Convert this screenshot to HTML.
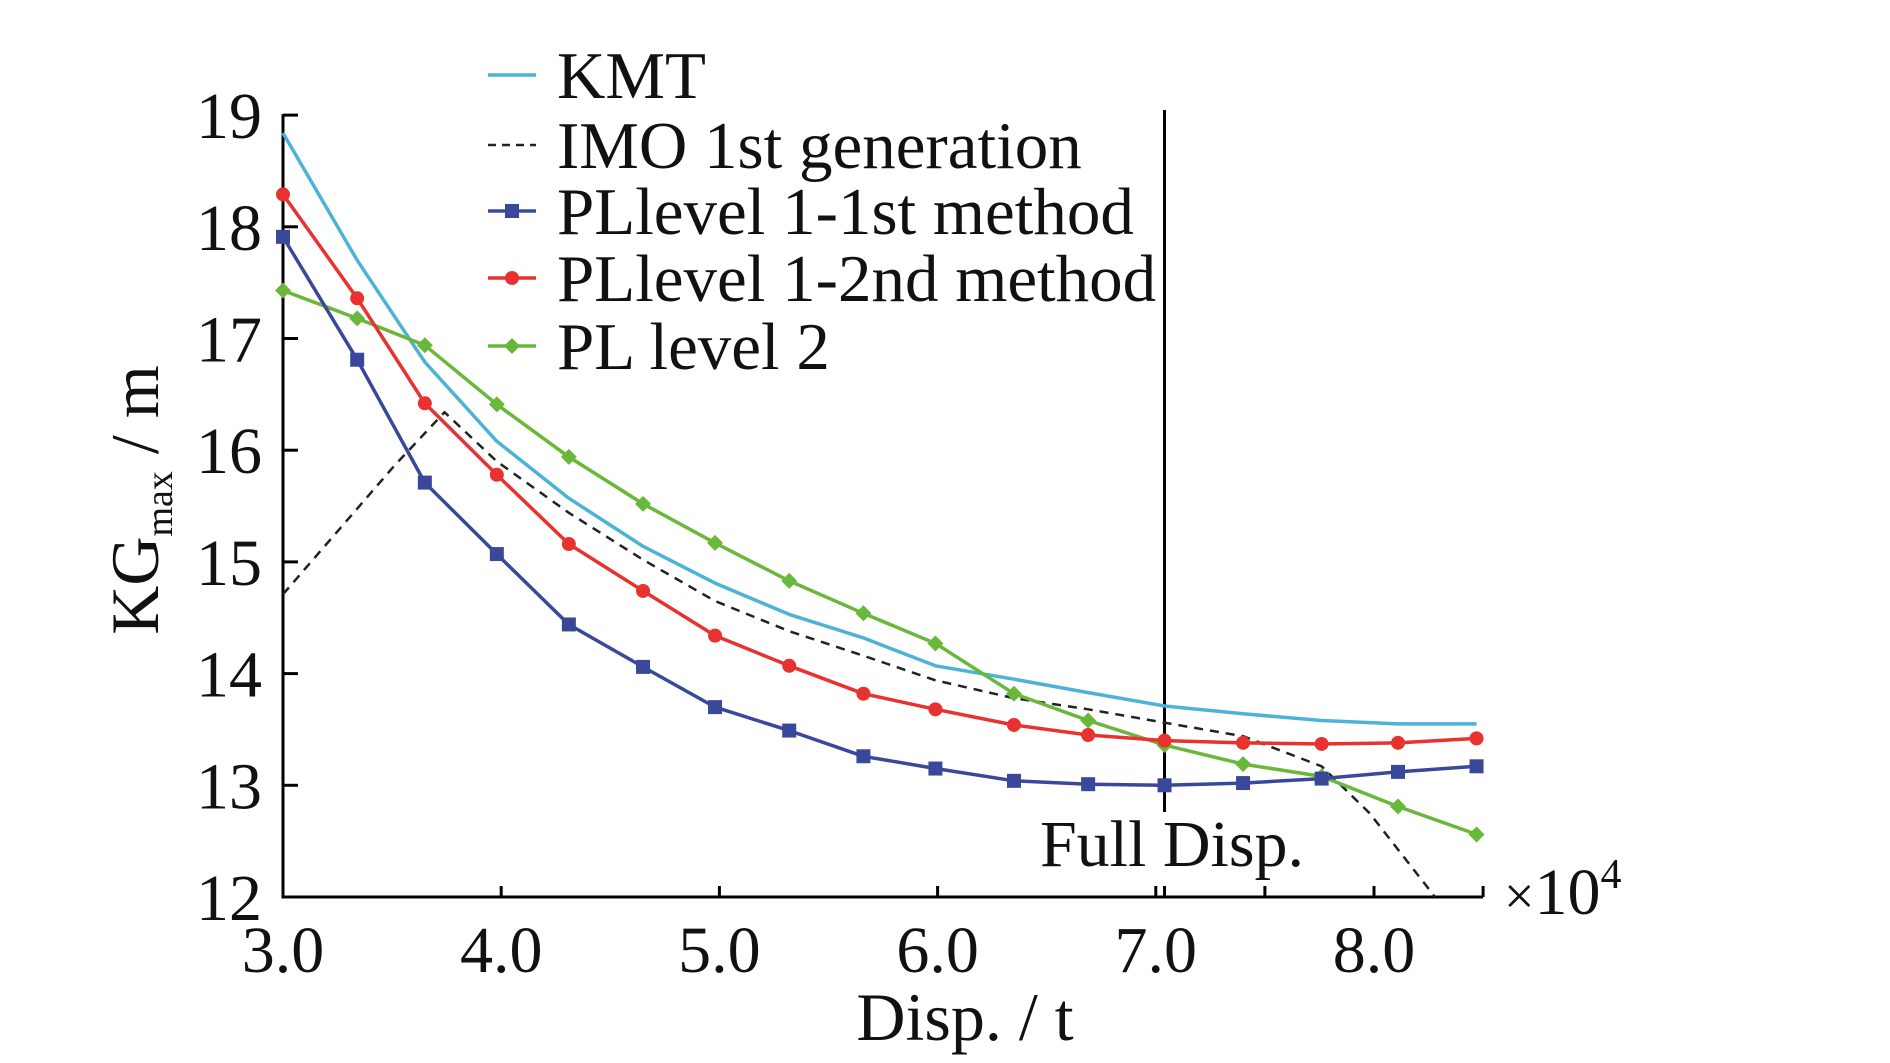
<!DOCTYPE html>
<html><head><meta charset="utf-8"><style>
html,body{margin:0;padding:0;background:#fff;}
svg{display:block;font-family:"Liberation Serif",serif;}
</style></head><body>
<svg id="chart" width="1890" height="1063" viewBox="0 0 1890 1063">
<g id="axes"></g>
<g id="series"></g>
<g id="legend"></g>
</svg>
<script>
const xTicks = [3.0, 4.0, 5.0, 6.0, 7.0, 8.0];
const xTickLabels = ["3.0","4.0","5.0","6.0","7.0","8.0"];
const xMinorTicks = [7.5, 8.5];
const yTicks = [12,13,14,15,16,17,18,19];
const ptX = [3.00,3.34,3.65,3.98,4.31,4.65,4.98,5.32,5.66,5.99,6.35,6.69,7.04,7.40,7.76,8.11,8.47];
const level1First = [17.91,16.81,15.71,15.07,14.44,14.06,13.70,13.49,13.26,13.15,13.04,13.01,13.00,13.02,13.06,13.12,13.17];
const level1Second = [18.29,17.36,16.42,15.78,15.16,14.74,14.34,14.07,13.82,13.68,13.54,13.45,13.40,13.38,13.37,13.38,13.42];
const level2 = [17.43,17.18,16.94,16.41,15.94,15.52,15.17,14.83,14.54,14.27,13.82,13.58,13.36,13.19,13.08,12.81,12.56];
const kmt = [18.84,17.70,16.79,16.08,15.57,15.14,14.81,14.53,14.32,14.07,13.95,13.83,13.71,13.64,13.58,13.55,13.55];
const imoX = [3.00,3.51,3.74,3.98,4.31,4.65,4.98,5.32,5.66,5.99,6.35,6.69,7.04,7.40,7.76,7.98,8.28];
const imo = [14.71,15.86,16.34,15.90,15.44,15.02,14.65,14.38,14.16,13.94,13.78,13.68,13.56,13.44,13.17,12.75,12.00];
const fullDisp = 7.04;

const NS="http://www.w3.org/2000/svg";
const X0=283, XS=218.2, Y0=897, YS=111.7;
const sx = v => X0 + (v-3)*XS;
const sy = v => Y0 - (v-12)*YS;
function mk(tag, attrs, parent){const e=document.createElementNS(NS,tag);for(const k in attrs)e.setAttribute(k,attrs[k]);parent.appendChild(e);return e;}
const axes=document.getElementById('axes'), series=document.getElementById('series'), legend=document.getElementById('legend');

let e;
e=mk('line',{x1:X0,y1:sy(12),x2:sx(8.5),y2:sy(12),stroke:'#000','stroke-width':3},axes);


e=mk('line',{x1:X0,y1:sy(19)-1,x2:X0,y2:sy(12)+1.5,stroke:'#000','stroke-width':3},axes);


xTicks.forEach((t,i)=>{
  if(i>0){e=mk('line',{x1:sx(t),y1:sy(12),x2:sx(t),y2:sy(12)-11,stroke:'#000','stroke-width':3},axes);
  
  }
  e=mk('text',{x:sx(t),y:972,'font-size':66,'text-anchor':'middle',fill:'#111'},axes);
  e.textContent=xTickLabels[i];
  
  
});
xMinorTicks.concat([fullDisp]).forEach(t=>{
  e=mk('line',{x1:sx(t),y1:sy(12),x2:sx(t),y2:sy(12)-11,stroke:'#000','stroke-width':3},axes);
  
  
});
yTicks.forEach(t=>{
  if(t>12){e=mk('line',{x1:X0,y1:sy(t),x2:X0+15,y2:sy(t),stroke:'#000','stroke-width':3},axes);
  
  }
  e=mk('text',{x:262,y:sy(t)+23,'font-size':66,'text-anchor':'end',fill:'#111'},axes);
  e.textContent=String(t);
  
  
});
e=mk('text',{x:965,y:1040,'font-size':68,'text-anchor':'middle',fill:'#111'},axes);
e.textContent='Disp. / t';


e=mk('text',{x:1504,y:914,'font-size':66,fill:'#111'},axes);
e.innerHTML='<tspan font-size="54">×</tspan>10<tspan font-size="42" dy="-26">4</tspan>';


e=mk('text',{x:0,y:0,'font-size':68,'text-anchor':'middle',fill:'#111',transform:'translate(158,500) rotate(-90)'},axes);
e.innerHTML='KG<tspan font-size="38" dy="14">max</tspan><tspan dy="-14"> / m</tspan>';


e=mk('line',{x1:sx(fullDisp),y1:110,x2:sx(fullDisp),y2:812,stroke:'#000','stroke-width':3},axes);


e=mk('text',{x:1172,y:866,'font-size':66,'text-anchor':'middle',fill:'#111'},axes);
e.textContent='Full Disp.';



function pathD(xs,ys){return xs.map((x,i)=>(i?'L':'M')+sx(x).toFixed(1)+' '+sy(ys[i]).toFixed(1)).join(' ');}
function marker(kind,cx,cy,color,parent){
  if(kind==='square') return mk('rect',{x:cx-7,y:cy-7,width:14,height:14,fill:color},parent);
  if(kind==='circle') return mk('circle',{cx:cx,cy:cy,r:7,fill:color},parent);
  if(kind==='diamond') return mk('path',{d:`M${cx} ${cy-8}L${cx+8} ${cy}L${cx} ${cy+8}L${cx-8} ${cy}Z`,fill:color},parent);
}
const defs=[
 {name:'kmt',label:'KMT',xs:ptX,ys:kmt,color:'#4db3d6',dash:null,m:null},
 {name:'imo-1st-generation',label:'IMO 1st generation',xs:imoX,ys:imo,color:'#222',dash:'9 7',m:null},
 {name:'pl-level1-1st-method',label:'PLlevel 1-1st method',xs:ptX,ys:level1First,color:'#3a4899',dash:null,m:'square'},
 {name:'pl-level1-2nd-method',label:'PLlevel 1-2nd method',xs:ptX,ys:level1Second,color:'#e8322f',dash:null,m:'circle'},
 {name:'pl-level2',label:'PL level 2',xs:ptX,ys:level2,color:'#6ab83b',dash:null,m:'diamond'}
];
const order=[1,0,4,3,2];
order.forEach(i=>{
  const d=defs[i];
  const g=mk('g',{},series);
  
  
  const attrs={d:pathD(d.xs,d.ys),fill:'none',stroke:d.color,'stroke-width':d.dash?2.5:3.5,'stroke-linejoin':'round'};
  if(d.dash)attrs['stroke-dasharray']=d.dash;
  const p=mk('path',attrs,g);
  
  
  if(d.m){d.xs.forEach((x,j)=>{
    const mm=marker(d.m,sx(x),sy(d.ys[j]),d.color,g);
    
    
  });}
});
const rowY=[75,145,211,278,346];
defs.forEach((d,i)=>{
  const g=mk('g',{},legend);
  
  
  const y=rowY[i];
  const la={x1:488,y1:y,x2:536,y2:y,stroke:d.color,'stroke-width':d.dash?2.5:3.5};
  if(d.dash)la['stroke-dasharray']='8 6';
  mk('line',la,g);
  if(d.m)marker(d.m,512,y,d.color,g);
  const t=mk('text',{x:557,y:y+23,'font-size':67,fill:'#111'},g);
  t.textContent=d.label;
});
</script>
</body></html>
